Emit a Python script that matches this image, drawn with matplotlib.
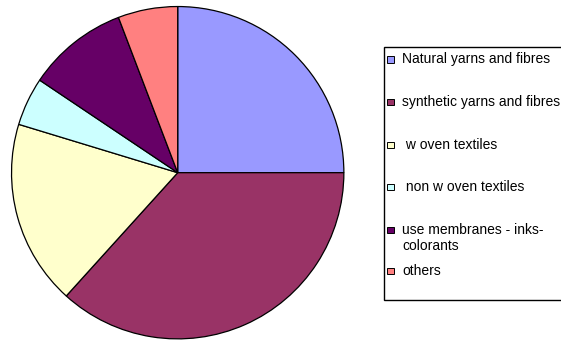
import matplotlib
matplotlib.use("Agg")
import matplotlib.pyplot as plt
from matplotlib.patches import Rectangle

# data
categories = ["Natural yarns and fibres", "synthetic yarns and fibres", " w oven textiles",
              " non w oven textiles", "use membranes - inks-\ncolorants", "others"]
values = [25.0, 36.7, 18.0, 4.7, 9.8, 5.8]
colors = ["#9999FF", "#993366", "#FFFFCC", "#CCFFFF", "#660066", "#FF8080"]

W, H = 561, 340
fig = plt.figure(figsize=(W / 100, H / 100), dpi=100)
plt.rcParams['font.family'] = ['Liberation Sans', 'DejaVu Sans']

cx, cy, r = 177.7, 172.7, 167.0
ax = fig.add_axes([(cx - r) / W, 1 - (cy + r) / H, 2 * r / W, 2 * r / H])
ax.pie(values, colors=colors, startangle=90, counterclock=False, radius=1,
       wedgeprops=dict(edgecolor="black", linewidth=0.9))
ax.set_xlim(-1.005, 1.005)
ax.set_ylim(-1.005, 1.005)
ax.set_aspect("auto")
ax.axis("off")

# legend overlay in pixel coords
lax = fig.add_axes([0, 0, 1, 1])
lax.set_xlim(0, W)
lax.set_ylim(H, 0)
lax.axis("off")
lax.add_patch(Rectangle((384.5, 46.7), 200, 253.3, facecolor="white",
                        edgecolor="black", linewidth=1.0))
row_y = [59.5, 102, 145, 187, 230, 271]
for lab, col, y in zip(categories, colors, row_y):
    lax.add_patch(Rectangle((387.5, y - 3.5), 6.5, 6.5, facecolor=col,
                            edgecolor="black", linewidth=0.7))
    lines = lab.split("\n")
    for i, ln in enumerate(lines):
        lax.text(402, y + 4 + i * 16, ln, fontsize=10, va="baseline", ha="left",
                 color="black")

fig.savefig("out.png", dpi=100)
